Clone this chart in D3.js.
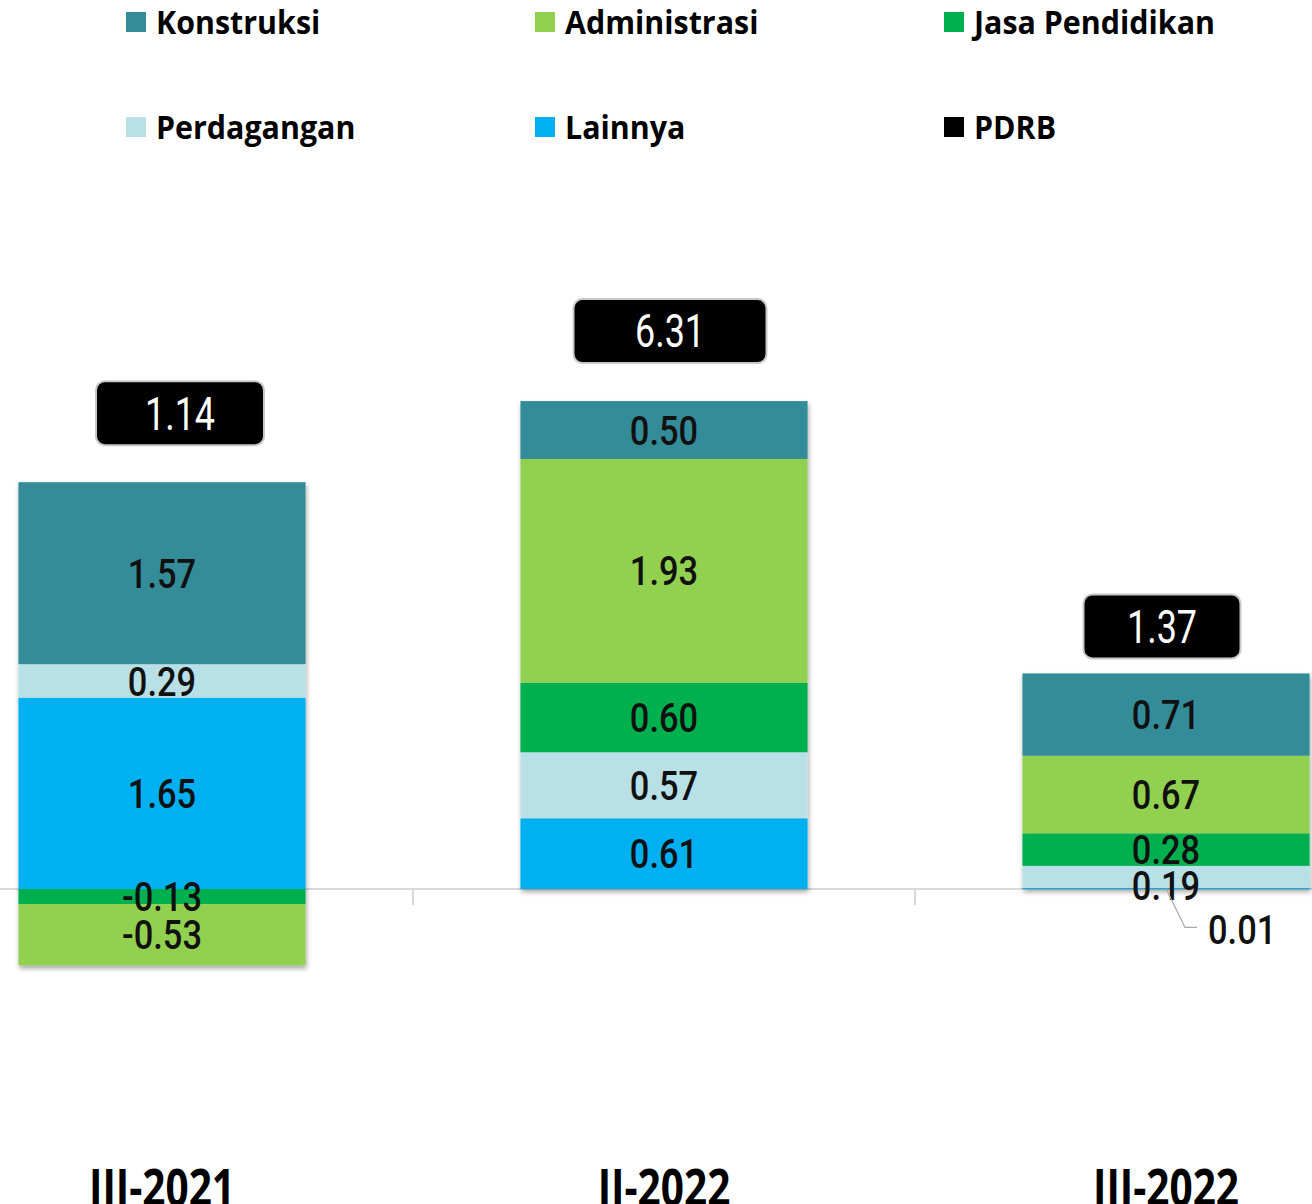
<html>
<head>
<meta charset="utf-8">
<script src="https://d3js.org/d3.v7.min.js"></script>
<style>
body { margin: 0; background: #fff; }
svg { display: block; }
.legend text { font-family: "Open Sans", sans-serif; font-weight: 700; font-size: 32px; fill: #000; }
.seg-label { font-family: Roboto, sans-serif; font-weight: 500; font-size: 41px; fill: #111; }
.pdrb-label { font-family: Roboto, sans-serif; font-size: 46px; fill: #fff; }
.cat-label { font-family: "Open Sans", sans-serif; font-weight: 700; font-size: 52px; fill: #000; }
</style>
</head>
<body>
<div id="chart"></div>
<script>

var width = 1312;
var height = 1204;

// data
var categories = ["III-2021", "II-2022", "III-2022"];
var konstruksi = [1.57, 0.50, 0.71];
var administrasi = [-0.53, 1.93, 0.67];
var jasaPendidikan = [-0.13, 0.60, 0.28];
var perdagangan = [0.29, 0.57, 0.19];
var lainnya = [1.65, 0.61, 0.01];
var pdrb = [1.14, 6.31, 1.37];

// stacked bottom-up
var stackKeys = ["Lainnya", "Perdagangan", "Jasa Pendidikan", "Administrasi", "Konstruksi"];
var legendKeys = ["Konstruksi", "Administrasi", "Jasa Pendidikan", "Perdagangan", "Lainnya", "PDRB"];

var colors = {
  "Konstruksi": "#358C99",
  "Administrasi": "#92D050",
  "Jasa Pendidikan": "#00B050",
  "Perdagangan": "#B8E0E6",
  "Lainnya": "#00B0F0",
  "PDRB": "#000000"
};

// where the black PDRB boxes sit, relative to the top of each stack (hand placed in the original)
var pdrbBox = [ { dx: 18, dy: -37, w: 168 }, { dx: 6, dy: -38, w: 193 }, { dx: -4, dy: -15, w: 157 } ];

var rows = categories.map(function (c, i) {
  return {
    cat: c,
    "Konstruksi": konstruksi[i],
    "Administrasi": administrasi[i],
    "Jasa Pendidikan": jasaPendidikan[i],
    "Perdagangan": perdagangan[i],
    "Lainnya": lainnya[i]
  };
});

var svg = d3.select("#chart").append("svg")
  .attr("width", width).attr("height", height);

var defs = svg.append("defs");
var shadow = defs.append("filter").attr("id", "shadow")
  .attr("x", "-5%").attr("y", "-5%").attr("width", "110%").attr("height", "110%");
shadow.append("feDropShadow")
  .attr("dx", 1).attr("dy", 3).attr("stdDeviation", 2.5)
  .attr("flood-color", "#000").attr("flood-opacity", 0.35);

var xScale = d3.scaleBand()
  .domain(categories).range([-89, 1417])
  .paddingInner(0.428).paddingOuter(0.214);

var yScale = d3.scaleLinear()
  .domain([-2, 7]).range([889 + 2 * 115.9, 889 - 7 * 115.9]);

function squeezed(sel, sx) {
  return sel.attr("transform", function (d) {
    return "translate(" + d.x + "," + d.y + ") scale(" + sx + ",1)";
  });
}

// axis line + category separators
svg.append("line")
  .attr("x1", 0).attr("x2", width)
  .attr("y1", yScale(0)).attr("y2", yScale(0))
  .style("stroke", "#d9d9d9").style("stroke-width", 2);

svg.selectAll("line.sep").data(categories.slice(1))
  .enter().append("line").attr("class", "sep")
  .attr("x1", function (c) { return xScale(c) - xScale.step() * xScale.paddingInner() / 2; })
  .attr("x2", function (c) { return xScale(c) - xScale.step() * xScale.paddingInner() / 2; })
  .attr("y1", yScale(0)).attr("y2", yScale(0) + 16)
  .style("stroke", "#d9d9d9").style("stroke-width", 2);

var stacked = d3.stack().keys(stackKeys).offset(d3.stackOffsetDiverging)(rows);

// one group per bar so the shadow falls under the whole stack
var barGroups = svg.selectAll("g.bar").data(categories)
  .enter().append("g").attr("class", "bar")
  .attr("filter", "url(#shadow)");

barGroups.each(function (c, i) {
  var g = d3.select(this);
  stacked.forEach(function (layer) {
    var d = layer[i];
    g.append("rect")
      .attr("x", xScale(c))
      .attr("width", xScale.bandwidth())
      .attr("y", yScale(Math.max(d[0], d[1])))
      .attr("height", Math.abs(yScale(d[0]) - yScale(d[1])))
      .style("fill", colors[layer.key]);
  });
});

// segment labels
var labels = [];
var outside = [];
categories.forEach(function (c, i) {
  var cx = xScale(c) + xScale.bandwidth() / 2;
  var col = [];
  stacked.forEach(function (layer) {
    var d = layer[i];
    var v = rows[i][layer.key];
    var cy = (yScale(d[0]) + yScale(d[1])) / 2;
    if (Math.abs(v) < 0.05) {
      outside.push({ cx: cx, cy: cy, v: v });
    } else {
      col.push({ x: cx, cy: cy, v: v });
    }
  });
  // push overlapping labels down
  col.sort(function (a, b) { return a.cy - b.cy; });
  for (var k = 1; k < col.length; k++) {
    if (col[k].cy - col[k - 1].cy < 36) col[k].cy = col[k - 1].cy + 36;
  }
  col.forEach(function (l) { l.y = l.cy + 0.355 * 41; labels.push(l); });
});

squeezed(svg.selectAll("text.seg-label").data(labels).enter().append("text")
  .attr("class", "seg-label")
  .attr("text-anchor", "middle")
  .text(function (d) { return d.v.toFixed(2); }), 0.84);

// tiny segment gets a leader line
outside.forEach(function (o) {
  svg.append("polyline")
    .attr("points", [[o.cx, o.cy], [o.cx + 19, o.cy + 39], [o.cx + 31, o.cy + 39]].join(" "))
    .style("fill", "none").style("stroke", "#a6a6a6").style("stroke-width", 1.2);
  squeezed(svg.append("text").datum({ x: o.cx + 42, y: o.cy + 41 + 0.355 * 41 })
    .attr("class", "seg-label")
    .attr("text-anchor", "start")
    .text(o.v.toFixed(2)), 0.84);
});

// PDRB boxes
var tops = categories.map(function (c, i) {
  return d3.max(stacked, function (layer) { return layer[i][1]; });
});

var pdrbG = svg.selectAll("g.pdrb").data(pdrb)
  .enter().append("g").attr("class", "pdrb")
  .attr("transform", function (v, i) {
    var cx = xScale(categories[i]) + xScale.bandwidth() / 2 + pdrbBox[i].dx;
    var bottom = yScale(tops[i]) + pdrbBox[i].dy;
    return "translate(" + cx + "," + (bottom - 32) + ")";
  });

pdrbG.append("rect")
  .attr("x", function (v, i) { return -pdrbBox[i].w / 2; })
  .attr("y", -32)
  .attr("width", function (v, i) { return pdrbBox[i].w; })
  .attr("height", 64)
  .attr("rx", 9).attr("ry", 9)
  .style("fill", "#000").style("stroke", "#c8c8c8").style("stroke-width", 2);

pdrbG.append("text")
  .attr("class", "pdrb-label")
  .attr("text-anchor", "middle")
  .attr("transform", "translate(0," + (0.355 * 46) + ") scale(0.78,1)")
  .text(function (v) { return v.toFixed(2); });

// category labels
squeezed(svg.selectAll("text.cat-label").data(categories.map(function (c) {
    return { c: c, x: xScale(c) + xScale.bandwidth() / 2, y: 1206 };
  })).enter().append("text")
  .attr("class", "cat-label")
  .attr("text-anchor", "middle")
  .text(function (d) { return d.c; }), 0.78);

// legend
var legend = svg.append("g").attr("class", "legend");
var legendItems = legend.selectAll("g").data(legendKeys)
  .enter().append("g")
  .attr("transform", function (k, i) {
    return "translate(" + (126 + (i % 3) * 409) + "," + (12 + Math.floor(i / 3) * 105) + ")";
  });

legendItems.append("rect")
  .attr("width", 20).attr("height", 20)
  .style("fill", function (k) { return colors[k]; });

legendItems.append("text")
  .attr("transform", "translate(30,22) scale(0.95,1)")
  .text(function (k) { return k; });

</script>
</body>
</html>
